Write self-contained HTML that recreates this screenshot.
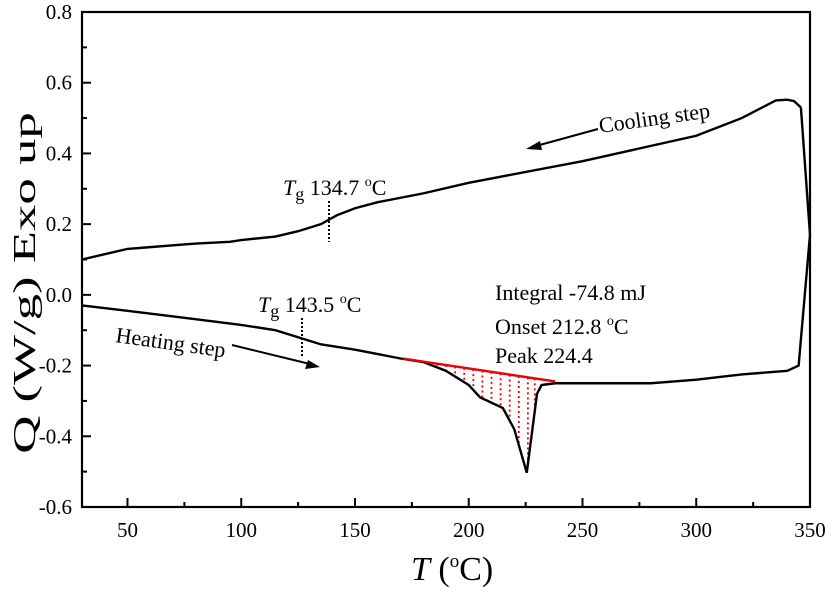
<!DOCTYPE html>
<html><head><meta charset="utf-8"><style>
body{margin:0;background:#fff}
svg{font-family:"Liberation Serif",serif}
</style></head><body>
<svg id="c" width="833" height="591" xmlns="http://www.w3.org/2000/svg"></svg>
<script>
const xTicks=[50,100,150,200,250,300,350];
const yTicks=[-0.6,-0.4,-0.2,0.0,0.2,0.4,0.6,0.8];
const yTickLabels=["-0.6","-0.4","-0.2","0.0","0.2","0.4","0.6","0.8"];
const coolT=[346,343,340,335,320,300,250,200,180,160,150,142,135,125,115,100,95,80,70,60,50,40,30];
const coolQ=[0.53,0.548,0.552,0.55,0.5,0.45,0.378,0.317,0.287,0.262,0.245,0.225,0.2,0.18,0.165,0.155,0.15,0.145,0.14,0.135,0.13,0.115,0.10];
const heatT=[30,50,75,100,115,125,135,150,170,180,190,200,205,215,220,225.5,230,232,238,280,300,320,340,345,350,346];
const heatQ=[-0.03,-0.045,-0.065,-0.085,-0.1,-0.12,-0.14,-0.155,-0.18,-0.19,-0.215,-0.255,-0.29,-0.32,-0.38,-0.503,-0.28,-0.255,-0.25,-0.25,-0.24,-0.225,-0.215,-0.2,0.17,0.53];
const baseT=[171,238];
const baseQ=[-0.18,-0.245];
const hatchT=[186,190,194,198,202,206,210,214,218,222,226,229];
const X0=82,X1=810,Y0=507,Y1=12;
const xs=t=>X0+(t-30)/(350-30)*(X1-X0);
const ys=q=>Y0-(q+0.6)/1.4*(Y0-Y1);
const svg=document.getElementById('c');
const NS='http://www.w3.org/2000/svg';
function mk(tag,attrs,parent){const e=document.createElementNS(NS,tag);for(const k in attrs)e.setAttribute(k,attrs[k]);(parent||svg).appendChild(e);return e;}
function interp(T,Q,t){for(let i=0;i<T.length-1;i++){if((T[i]-t)*(T[i+1]-t)<=0&&T[i]!==T[i+1]){return Q[i]+(Q[i+1]-Q[i])*(t-T[i])/(T[i+1]-T[i]);}}return Q[0];}
const hg=mk('g',{});


hatchT.forEach(t=>{
 const qb=baseQ[0]+(baseQ[1]-baseQ[0])*(t-baseT[0])/(baseT[1]-baseT[0]);
 const qc=interp(heatT.slice(0,19),heatQ.slice(0,19),t);
 const l=mk('line',{x1:xs(t),x2:xs(t),y1:ys(qb),y2:ys(qc),stroke:'#e00',"stroke-width":1.8,"stroke-dasharray":"2,3"},hg);
 
 
});
const pc=mk('polyline',{points:coolT.map((t,i)=>xs(t)+','+ys(coolQ[i])).join(' '),fill:'none',stroke:'#000',"stroke-width":2.4});


const ph=mk('polyline',{points:heatT.map((t,i)=>xs(t)+','+ys(heatQ[i])).join(' '),fill:'none',stroke:'#000',"stroke-width":2.4});


const bl=mk('line',{x1:xs(baseT[0]),y1:ys(baseQ[0]),x2:xs(baseT[1]),y2:ys(baseQ[1]),stroke:'#e00',"stroke-width":2.4});


const fr=mk('rect',{x:X0,y:Y1,width:X1-X0,height:Y0-Y1,fill:'none',stroke:'#000',"stroke-width":2.2});


xTicks.forEach(t=>{
 mk('line',{x1:xs(t),x2:xs(t),y1:Y0,y2:Y0-9,stroke:'#000',"stroke-width":2});
 if(t-25>30)mk('line',{x1:xs(t-25),x2:xs(t-25),y1:Y0,y2:Y0-5,stroke:'#000',"stroke-width":2});
 const tx=mk('text',{x:xs(t),y:Y0+30,"font-size":21,"text-anchor":"middle"});
 tx.textContent=t;
 
 
});
yTicks.forEach((q,i)=>{
 mk('line',{x1:X0,x2:X0+9,y1:ys(q),y2:ys(q),stroke:'#000',"stroke-width":2});
 if(i<yTicks.length-1)mk('line',{x1:X0,x2:X0+5,y1:ys(q+0.1),y2:ys(q+0.1),stroke:'#000',"stroke-width":2});
 const tx=mk('text',{x:X0-10,y:ys(q)+7,"font-size":21,"text-anchor":"end"});
 tx.textContent=yTickLabels[i];
 
 
});
</script>
<svg width="833" height="591" style="position:absolute;left:0;top:0" xmlns="http://www.w3.org/2000/svg" font-family="Liberation Serif,serif">
<text transform="translate(35,283) rotate(-90) scale(1.65,1)" font-size="32" text-anchor="middle">Q (W/g) Exo up</text>
<text x="411" y="580" font-size="34"><tspan font-style="italic">T</tspan> (<tspan font-size="19" dy="-13">o</tspan><tspan dy="13">C)</tspan></text>
<text x="600" y="133" font-size="22" transform="rotate(-8 600 133)">Cooling step</text>
<line x1="598" y1="129" x2="536" y2="146" stroke="#000" stroke-width="2"/>
<polygon points="526,149 540,141 542,150" fill="#000"/>
<text x="115" y="342" font-size="22" transform="rotate(8 115 342)">Heating step</text>
<line x1="232" y1="345" x2="310" y2="364" stroke="#000" stroke-width="2"/>
<polygon points="320,367 305,369 308,360" fill="#000"/>
<text x="283" y="195" font-size="22"><tspan font-style="italic">T</tspan><tspan font-size="18" dy="5">g</tspan><tspan dy="-5"> 134.7 </tspan><tspan font-size="14" dy="-9">o</tspan><tspan dy="9">C</tspan></text>
<line x1="329" y1="201" x2="329" y2="242" stroke="#000" stroke-width="2" stroke-dasharray="2,2"/>
<text x="258" y="312" font-size="22"><tspan font-style="italic">T</tspan><tspan font-size="18" dy="5">g</tspan><tspan dy="-5"> 143.5 </tspan><tspan font-size="14" dy="-9">o</tspan><tspan dy="9">C</tspan></text>
<line x1="302" y1="318" x2="302" y2="358" stroke="#000" stroke-width="2" stroke-dasharray="2,2"/>
<text x="495" y="300" font-size="22">Integral -74.8 mJ</text>
<text x="495" y="334" font-size="22">Onset 212.8 <tspan font-size="14" dy="-9">o</tspan><tspan dy="9">C</tspan></text>
<text x="495" y="363" font-size="22">Peak 224.4</text>
</svg>
</body></html>
